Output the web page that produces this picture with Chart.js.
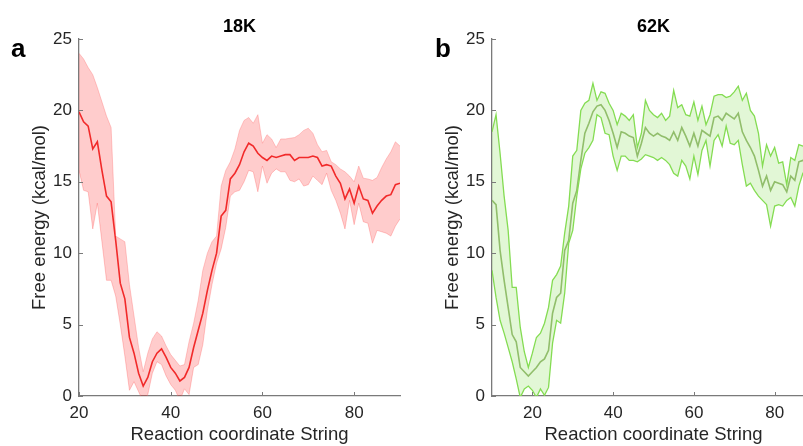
<!DOCTYPE html>
<html>
<head>
<meta charset="utf-8">
<script src="https://cdn.jsdelivr.net/npm/chart.js@4.4.1/dist/chart.umd.min.js"></script>
<style>
  html, body { margin: 0; padding: 0; background: #fff; overflow: hidden; width: 803px; height: 446px; }
  .panel { position: absolute; top: 0; }
  #wrapA { left: 0; }
  #wrapB { left: 413px; }
</style>
</head>
<body>
<div class="panel" id="wrapA"><canvas id="chartA" width="410" height="446"></canvas></div>
<div class="panel" id="wrapB"><canvas id="chartB" width="410" height="446"></canvas></div>
<script>
// ---- data ----
// panel a: 18K, reaction coordinate 20..90
const startA = 20;
const meanA = [19.9, 19.2, 18.9, 17.3, 17.8, 15.8, 14.0, 13.6, 10.9, 7.9,
               6.8, 4.1, 3.0, 1.6, 0.7, 1.3, 2.4, 3.0, 3.3, 2.7,
               2.0, 1.6, 1.05, 1.3, 2.0, 3.4, 4.6, 5.8, 7.4, 8.8,
               10.0, 12.6, 13.0, 15.2, 15.6, 16.2, 17.1, 17.7, 17.5, 17.0,
               16.7, 16.5, 16.8, 16.7, 16.8, 16.9, 16.9, 16.5, 16.7, 16.7,
               16.7, 16.8, 16.7, 16.1, 16.2, 16.1, 15.4, 14.9, 13.8, 14.5,
               13.5, 14.7, 13.8, 13.7, 12.8, 13.3, 13.7, 14.0, 14.1, 14.8, 14.9];
const upperA = [24.0, 23.6, 23.0, 22.5, 21.6, 20.6, 19.6, 18.8, 11.2, 11.0,
                10.8, 7.8, 5.6, 3.4, 1.7, 3.0, 4.0, 4.5, 4.2, 3.5,
                2.9, 2.5, 2.1, 2.2, 3.8, 5.1, 6.7, 8.8, 10.0, 10.8,
                11.2, 14.7, 15.8, 16.4, 17.3, 18.6, 19.3, 19.5, 19.1, 19.7,
                17.7, 18.3, 18.0, 17.4, 18.0, 18.0, 18.05, 18.1, 18.3, 18.6,
                18.75, 18.4, 17.6, 17.1, 17.2, 16.4, 16.2, 15.9, 15.7, 15.4,
                15.0, 16.1, 15.25, 15.2, 15.1, 15.3, 16.0, 16.6, 17.1, 17.8, 17.5];
const lowerA = [15.8, 14.4, 14.3, 11.7, 13.5, 10.8, 8.1, 8.1, 7.0, 5.0,
                2.8, 0.4, 1.0, 0.3, -0.4, 0.1, 1.6, 2.4, 2.2, 1.4,
                0.8, 0.4, -0.3, 0.5, 0.1, 2.0, 2.2, 3.6, 6.0, 7.8,
                9.3, 10.3, 11.8, 14.0, 14.3, 14.4, 15.0, 15.8, 15.7, 14.3,
                16.1, 14.9, 15.6, 15.9, 15.7, 15.7, 15.1, 15.0, 15.2, 14.7,
                14.8, 15.4, 15.1, 14.8, 15.6, 14.4, 13.7, 12.8, 11.7, 13.7,
                12.0, 13.5, 12.2, 12.1, 10.7, 11.6, 11.5, 11.4, 11.2, 11.9, 12.4];

// panel b: 62K, reaction coordinate 10..90
const startB = 10;
const meanB = [13.7, 13.4, 10.2, 8.1, 6.2, 4.3, 3.8, 2.0, 1.7, 1.4,
               1.7, 2.0, 2.4, 2.6, 3.2, 5.8, 6.9, 7.2, 10.2, 10.9,
               13.5, 14.4, 16.5, 18.4, 19.1, 19.9, 20.3, 20.4, 20.0, 19.3,
               18.4, 17.4, 18.5, 18.4, 18.2, 18.1, 16.8, 17.7, 18.8, 18.4,
               18.2, 18.4, 18.2, 18.1, 17.9, 18.5, 17.9, 18.8, 18.2, 17.5,
               18.4, 17.5, 18.6, 18.4, 18.2, 19.5, 19.6, 19.3, 19.8, 19.6,
               19.4, 19.8, 18.5, 17.9, 17.4, 16.8, 15.8, 14.7, 15.4, 14.4,
               15.0, 14.9, 14.8, 14.3, 15.4, 15.1, 16.4, 16.5, 16.5, 16.2, 16.4];
const upperB = [18.5, 19.7, 17.0, 14.0, 11.6, 7.6, 7.6, 4.8, 3.1, 2.0,
                3.0, 4.1, 4.4, 5.1, 6.2, 8.1, 8.5, 9.1, 11.4, 13.3,
                16.8, 17.2, 20.0, 20.5, 20.7, 21.9, 20.7, 21.3, 21.2, 20.5,
                20.0, 19.0, 19.8, 19.6, 19.3, 19.7, 17.4, 18.4, 20.7, 20.0,
                19.7, 19.5, 19.8, 19.3, 19.6, 21.4, 20.2, 20.4, 19.7, 19.6,
                20.6, 19.3, 20.3, 19.0, 19.7, 21.0, 21.1, 21.1, 20.9, 21.0,
                21.3, 21.7, 20.7, 21.2, 20.0, 19.6, 18.4, 16.1, 17.6, 16.8,
                17.4, 16.3, 16.4, 14.8, 16.7, 16.5, 17.6, 17.5, 17.6, 17.3, 17.5];
const lowerB = [8.8, 6.9, 5.3, 4.4, 3.4, 2.4, 1.2, -0.1, 0.5, 0.7,
                0.4, -0.1, 0.5, 0.05, 0.6, 3.7, 5.3, 5.1, 7.2, 10.7,
                11.6, 14.0, 15.9, 17.0, 17.4, 17.9, 19.7, 19.5, 18.4, 18.3,
                16.8, 15.8, 16.8, 16.8, 16.5, 16.5, 16.4, 16.6, 16.9, 16.8,
                16.7, 16.5, 16.7, 16.5, 16.2, 15.6, 15.4, 16.5, 16.1, 15.2,
                16.8, 15.5, 17.2, 17.9, 16.1, 17.9, 18.3, 17.5, 18.9, 17.7,
                17.6, 17.9, 16.2, 14.7, 14.9, 14.4, 14.0, 13.7, 13.4, 11.9,
                13.3, 13.4, 13.3, 13.7, 13.9, 13.3, 14.7, 15.6, 15.8, 15.5, 15.7];

const xTicks = [20, 40, 60, 80];
const yTicks = [0, 5, 10, 15, 20, 25];

// ---- styling ----
const FONT = '"Liberation Sans", Arial, sans-serif';
const TEXT = '#262626';
const AXIS = '#7a7a7a';

function toPoints(start, arr) {
  return arr.map((v, i) => ({ x: start + i, y: v }));
}

// panel letter, title and inward tick marks (MATLAB look)
const panelText = {
  id: 'panelText',
  afterDraw(chart, args, opts) {
    const { ctx, chartArea, scales } = chart;
    ctx.save();
    ctx.strokeStyle = AXIS;
    ctx.lineWidth = 1;
    scales.x.ticks.forEach(t => {
      const px = Math.round(scales.x.getPixelForValue(t.value)) + 0.5;
      ctx.beginPath();
      ctx.moveTo(px, chartArea.bottom);
      ctx.lineTo(px, chartArea.bottom - 4);
      ctx.stroke();
    });
    scales.y.ticks.forEach(t => {
      const py = Math.round(scales.y.getPixelForValue(t.value)) + 0.5;
      ctx.beginPath();
      ctx.moveTo(chartArea.left, py);
      ctx.lineTo(chartArea.left + 4, py);
      ctx.stroke();
    });
    ctx.fillStyle = '#000';
    ctx.textBaseline = 'alphabetic';
    ctx.textAlign = 'center';
    ctx.font = 'bold 18px ' + FONT;
    ctx.fillText(opts.title, (chartArea.left + chartArea.right) / 2, 32);
    ctx.textAlign = 'left';
    ctx.font = 'bold 26px ' + FONT;
    ctx.fillText(opts.letter, opts.letterX, 57);
    ctx.restore();
  }
};

function makeChart(id, cfg) {
  return new Chart(document.getElementById(id), {
    type: 'line',
    data: {
      datasets: [
        { data: toPoints(cfg.start, cfg.upper), borderColor: cfg.edge, borderWidth: cfg.edgeWidth,
          backgroundColor: cfg.fill, fill: '+1' },
        { data: toPoints(cfg.start, cfg.lower), borderColor: cfg.edge, borderWidth: cfg.edgeWidth, fill: false },
        { data: toPoints(cfg.start, cfg.mean), borderColor: cfg.line, borderWidth: 1.6, fill: false }
      ]
    },
    plugins: [panelText],
    options: {
      responsive: false,
      animation: false,
      events: [],
      layout: { padding: { left: 25, top: 39, right: cfg.padRight, bottom: 0 } },
      elements: { point: { radius: 0 }, line: { tension: 0 } },
      plugins: {
        legend: { display: false },
        tooltip: { enabled: false },
        panelText: { title: cfg.title, letter: cfg.letter, letterX: cfg.letterX }
      },
      scales: {
        x: {
          type: 'linear', min: cfg.xMin, max: cfg.xMax,
          afterBuildTicks: s => { s.ticks = xTicks.map(v => ({ value: v })); },
          afterFit: s => { s.height = 50; },
          grid: { display: false, drawTicks: false },
          border: { display: true, color: AXIS, width: 1.3 },
          ticks: { font: { family: FONT, size: 17 }, color: TEXT, padding: 7, maxRotation: 0, autoSkip: false },
          title: { display: true, text: 'Reaction coordinate String', color: TEXT,
                   font: { family: FONT, size: 18.5 }, padding: { top: 0, bottom: 0 } }
        },
        y: {
          type: 'linear', min: 0, max: 25,
          afterBuildTicks: s => { s.ticks = yTicks.map(v => ({ value: v })); },
          afterFit: s => { s.width = 54; },
          grid: { display: false, drawTicks: false },
          border: { display: true, color: AXIS, width: 1.3 },
          ticks: { font: { family: FONT, size: 17 }, color: TEXT, padding: 7 },
          title: { display: true, text: 'Free energy (kcal/mol)', color: TEXT,
                   font: { family: FONT, size: 18.5 }, padding: { top: 4, bottom: 0 } }
        }
      }
    }
  });
}

makeChart('chartA', {
  start: startA, mean: meanA, upper: upperA, lower: lowerA,
  xMin: 20, xMax: 90, padRight: 10,
  title: '18K', letter: 'a', letterX: 11,
  fill: 'rgba(255, 0, 0, 0.2)', edge: 'rgba(255, 110, 110, 0.35)', edgeWidth: 1, line: '#ee3535'
});

makeChart('chartB', {
  start: startB, mean: meanB, upper: upperB, lower: lowerB,
  xMin: 10, xMax: 90, padRight: 8,
  title: '62K', letter: 'b', letterX: 22,
  fill: 'rgba(140, 225, 90, 0.25)', edge: '#84dc52', edgeWidth: 1.3, line: '#93b370'
});
</script>
</body>
</html>
